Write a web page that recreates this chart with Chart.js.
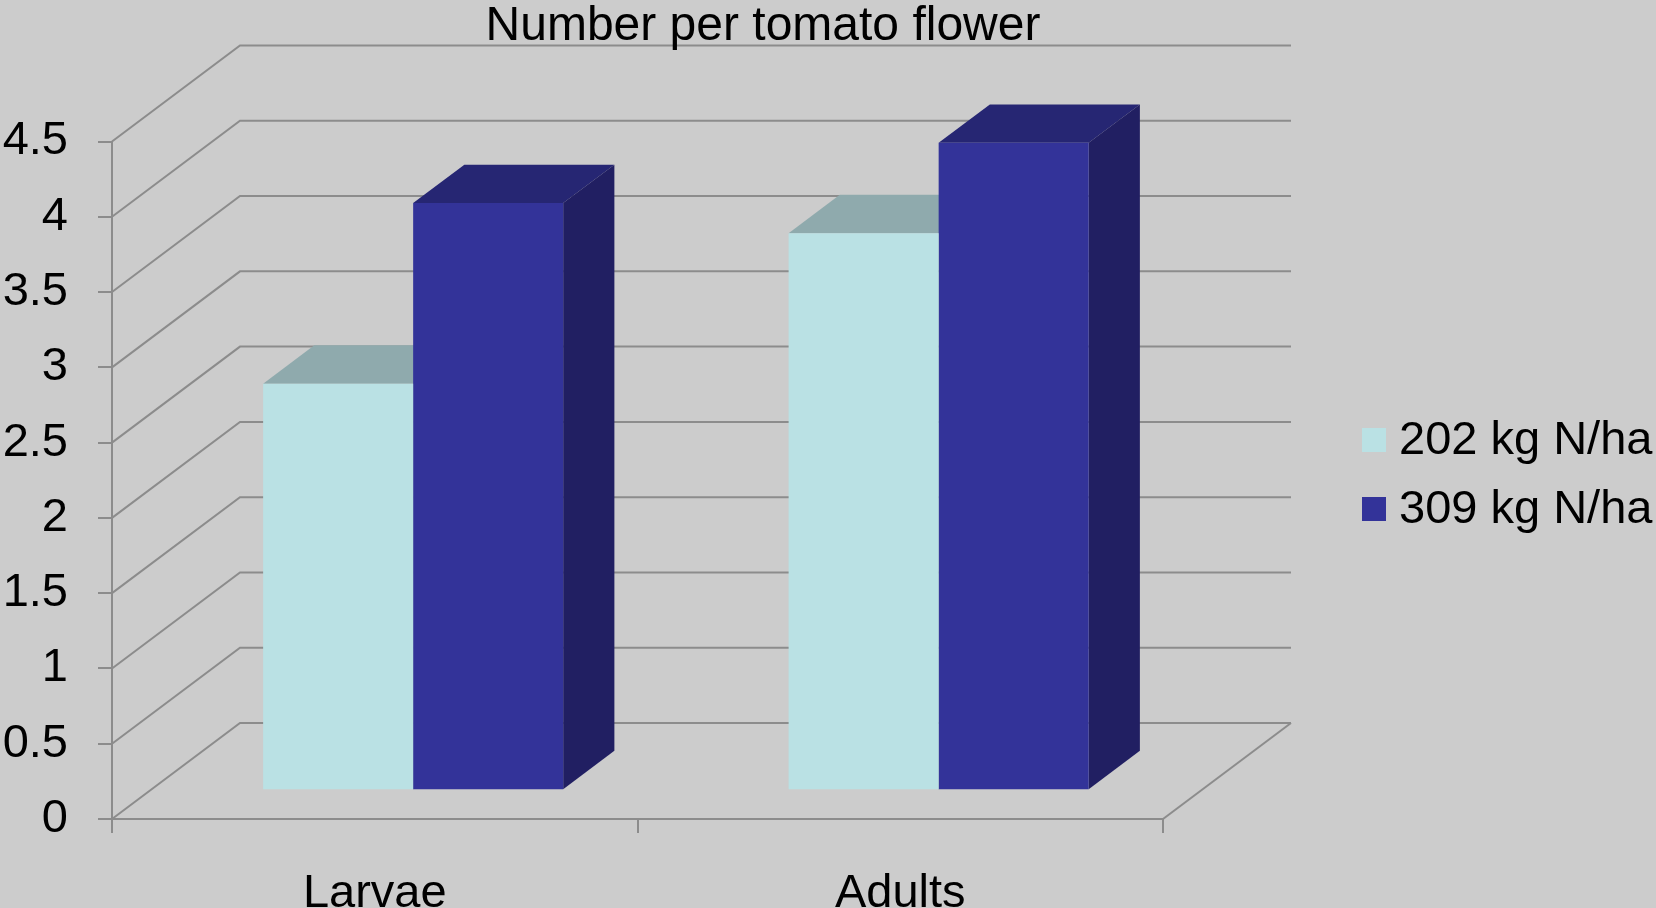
<!DOCTYPE html>
<html>
<head>
<meta charset="utf-8">
<script src="https://cdn.jsdelivr.net/npm/chart.js@4.4.1/dist/chart.umd.min.js"></script>
<style>
    body { margin: 0; background: #cccccc; }
    #wrap { width: 1656px; height: 908px; }
</style>
</head>
<body>
<div id="wrap"><canvas id="chart"></canvas></div>
<script>
const categories = ['Larvae', 'Adults']
const seriesNames = ['202 kg N/ha', '309 kg N/ha']
const values202 = [2.7, 3.7]
const values309 = [3.9, 4.3]
const yMax = 4.5
const yStep = 0.5
const titleText = 'Number per tomato flower'

// fake 3d: depth offset of the back wall, bars sit between FRONT and BACK
const DX = 128, DY = -96
const FRONT = 0.3, BACK = 0.7
const faces = [
    { front: '#bae1e4', top: '#8faaad', side: '#7f9799' },
    { front: '#333399', top: '#262673', side: '#211f62' }
]
const lineColor = '#8c8c8c'
const fontFamily = '"Liberation Sans", Arial, sans-serif'

const walls = {
    id: 'walls',
    beforeDraw(chart) {
        const ctx = chart.ctx
        ctx.save()
        ctx.fillStyle = '#cccccc'
        ctx.fillRect(0, 0, chart.width, chart.height)
        ctx.restore()
    },
    beforeDatasetsDraw(chart) {
        const ctx = chart.ctx
        const y = chart.scales.y
        const a = chart.chartArea
        ctx.save()
        ctx.strokeStyle = lineColor
        ctx.lineWidth = 2
        y.ticks.forEach(t => {
            const py = y.getPixelForValue(t.value)
            ctx.beginPath()
            ctx.moveTo(a.left, py)
            ctx.lineTo(a.left + DX, py + DY)
            ctx.lineTo(a.right + DX, py + DY)
            ctx.stroke()
        })
        const py0 = y.getPixelForValue(0)
        ctx.beginPath()
        ctx.moveTo(a.right, py0)
        ctx.lineTo(a.right + DX, py0 + DY)
        ctx.stroke()

        // top and side faces, the front faces are drawn by chart.js
        const ox = FRONT * DX, oy = FRONT * DY
        const dx = (BACK - FRONT) * DX, dy = (BACK - FRONT) * DY
        categories.forEach((c, i) => {
            chart.data.datasets.forEach((ds, j) => {
                const el = chart.getDatasetMeta(j).data[i]
                const x0 = el.x - el.width / 2 + ox
                const x1 = el.x + el.width / 2 + ox
                const yt = el.y + oy
                const yb = el.base + oy
                ctx.fillStyle = faces[j].top
                ctx.beginPath()
                ctx.moveTo(x0, yt)
                ctx.lineTo(x1, yt)
                ctx.lineTo(x1 + dx, yt + dy)
                ctx.lineTo(x0 + dx, yt + dy)
                ctx.closePath()
                ctx.fill()
                ctx.fillStyle = faces[j].side
                ctx.beginPath()
                ctx.moveTo(x1, yt)
                ctx.lineTo(x1 + dx, yt + dy)
                ctx.lineTo(x1 + dx, yb + dy)
                ctx.lineTo(x1, yb)
                ctx.closePath()
                ctx.fill()
            })
        })
        ctx.restore()
        ctx.save()
        ctx.translate(ox, oy)
    },
    afterDatasetsDraw(chart) {
        chart.ctx.restore()
    },
    afterDraw(chart) {
        const ctx = chart.ctx
        ctx.save()
        ctx.fillStyle = '#000'
        ctx.font = '48px ' + fontFamily
        ctx.textAlign = 'center'
        ctx.textBaseline = 'alphabetic'
        ctx.fillText(titleText, 763, 40)

        ctx.font = '47px ' + fontFamily
        ctx.textAlign = 'left'
        ctx.textBaseline = 'middle'
        chart.data.datasets.forEach((ds, j) => {
            const cy = 440 + j * 69
            ctx.fillStyle = faces[j].front
            ctx.fillRect(1362, cy - 12, 24, 24)
            ctx.fillStyle = '#000'
            ctx.fillText(ds.label, 1399, cy + 1)
        })
        ctx.restore()
    }
}

new Chart('chart', {
    type: 'bar',
    data: {
        labels: categories,
        datasets: [
            { label: seriesNames[0], data: values202, backgroundColor: faces[0].front },
            { label: seriesNames[1], data: values309, backgroundColor: faces[1].front }
        ]
    },
    options: {
        responsive: true,
        maintainAspectRatio: false,
        animation: false,
        clip: false,
        categoryPercentage: 0.571,
        barPercentage: 1,
        borderWidth: 0,
        layout: { padding: { top: 141.5, right: 493, left: 0, bottom: 0 } },
        plugins: {
            legend: { display: false },
            title: { display: false },
            tooltip: { enabled: false }
        },
        scales: {
            x: {
                afterFit: s => { s.height = 89 },
                border: { display: true, color: lineColor, width: 2 },
                grid: { drawOnChartArea: false, drawTicks: true, tickLength: 14, color: lineColor, lineWidth: 2 },
                ticks: { color: '#000', padding: 33, font: { family: fontFamily, size: 47 } }
            },
            y: {
                min: 0,
                max: yMax,
                afterFit: s => { s.width = 112 },
                border: { display: true, color: lineColor, width: 2 },
                grid: { drawOnChartArea: false, drawTicks: true, tickLength: 14, color: lineColor, lineWidth: 2 },
                ticks: {
                    stepSize: yStep,
                    color: '#000',
                    padding: 30,
                    font: { family: fontFamily, size: 47 },
                    callback: v => String(Math.round(v * 10) / 10)
                }
            }
        }
    },
    plugins: [walls]
})
</script>
</body>
</html>
